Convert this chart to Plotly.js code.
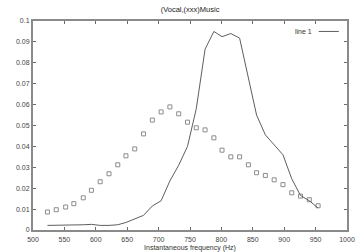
<!DOCTYPE html>
<html>
<head>
<meta charset="utf-8">
<script src="https://cdn.plot.ly/plotly-3.0.1.min.js"></script>
<style>html,body{margin:0;padding:0;background:#fff;}#chart{width:360px;height:252px;}</style>
</head>
<body>
<div id="chart"></div>
<script>
const freq = [523, 537, 552, 565, 580, 593, 607, 621, 635, 648, 662, 676, 690, 704, 718, 732,
              746, 760, 774, 788, 801, 815, 829, 843, 856, 870, 884, 898, 912, 926, 940, 954];
const line1 = [0.0022, 0.0022, 0.0022, 0.0022, 0.0025, 0.0027, 0.0022, 0.0022, 0.0025, 0.0036,
               0.0054, 0.0070, 0.0115, 0.0140, 0.0235, 0.0310, 0.0400, 0.0580, 0.0865, 0.0950,
               0.0925, 0.0940, 0.0918, 0.0730, 0.0550, 0.0455, 0.0408, 0.0360, 0.0245, 0.0165,
               0.0140, 0.0105];
const squares = [0.0086, 0.0097, 0.0110, 0.0126, 0.0154, 0.0190, 0.0231, 0.0269, 0.0312, 0.0355,
                 0.0388, 0.0460, 0.0526, 0.0565, 0.0589, 0.0556, 0.0516, 0.0489, 0.0479, 0.0441,
                 0.0382, 0.0350, 0.0350, 0.0312, 0.0274, 0.0261, 0.0240, 0.0217, 0.0178, 0.0162,
                 0.0145, 0.0116];
const xTicks = [500, 550, 600, 650, 700, 750, 800, 850, 900, 950, 1000];
const yTicks = [0, 0.01, 0.02, 0.03, 0.04, 0.05, 0.06, 0.07, 0.08, 0.09, 0.1];
const yTickText = ['0', '0.01', '0.02', '0.03', '0.04', '0.05', '0.06', '0.07', '0.08', '0.09', '0.1'];
const titleText = '(Vocal,(xxx)Music';
const xTitle = 'Instantaneous frequency (Hz)';
const legendName = 'line 1';

const font = 'Liberation Sans, Arial, sans-serif';
const traces = [
  {x: freq, y: squares, type: 'scatter', mode: 'markers', name: 'points', showlegend: false,
   marker: {symbol: 'square-open', size: 4, color: '#8c8c8c', line: {width: 1, color: '#8c8c8c'}}},
  {x: freq, y: line1, type: 'scatter', mode: 'lines', name: legendName, showlegend: false,
   line: {color: '#5e5e5e', width: 1}}
];
const axisCommon = {
  showgrid: false, zeroline: false, showline: true, linecolor: '#8a8a8a', linewidth: 2,
  mirror: 'ticks', ticks: 'inside', ticklen: 3, tickwidth: 1, tickcolor: '#6a6a6a',
  tickfont: {family: font, size: 7, color: '#444'}
};
const layout = {
  width: 360, height: 252,
  margin: {l: 33, r: 13, t: 21, b: 22},
  paper_bgcolor: '#fff', plot_bgcolor: '#fff',
  showlegend: false,
  title: {text: titleText, font: {family: font, size: 7.5, color: '#222'}, x: 0.528, xanchor: 'center', y: 0.962, yanchor: 'middle'},
  xaxis: Object.assign({}, axisCommon, {range: [500, 1000], tickmode: 'array', tickvals: xTicks,
    ticktext: xTicks.map(String), ticklabelstandoff: 2,
    title: {text: xTitle, font: {family: font, size: 7, color: '#333'}, standoff: 4}}),
  yaxis: Object.assign({}, axisCommon, {range: [0, 0.1], tickmode: 'array', tickvals: yTicks,
    ticktext: yTickText}),
  annotations: [
    {xref: 'paper', yref: 'paper', x: 0.895, y: 0.95, xanchor: 'right', yanchor: 'middle',
     text: legendName, showarrow: false, font: {family: font, size: 7, color: '#333'}}
  ],
  shapes: [
    {type: 'line', xref: 'paper', yref: 'paper', x0: 0.91, x1: 0.974, y0: 0.95, y1: 0.95,
     line: {color: '#5e5e5e', width: 1}}
  ]
};
Plotly.newPlot('chart', traces, layout, {displayModeBar: false, staticPlot: true});
</script>
</body>
</html>
